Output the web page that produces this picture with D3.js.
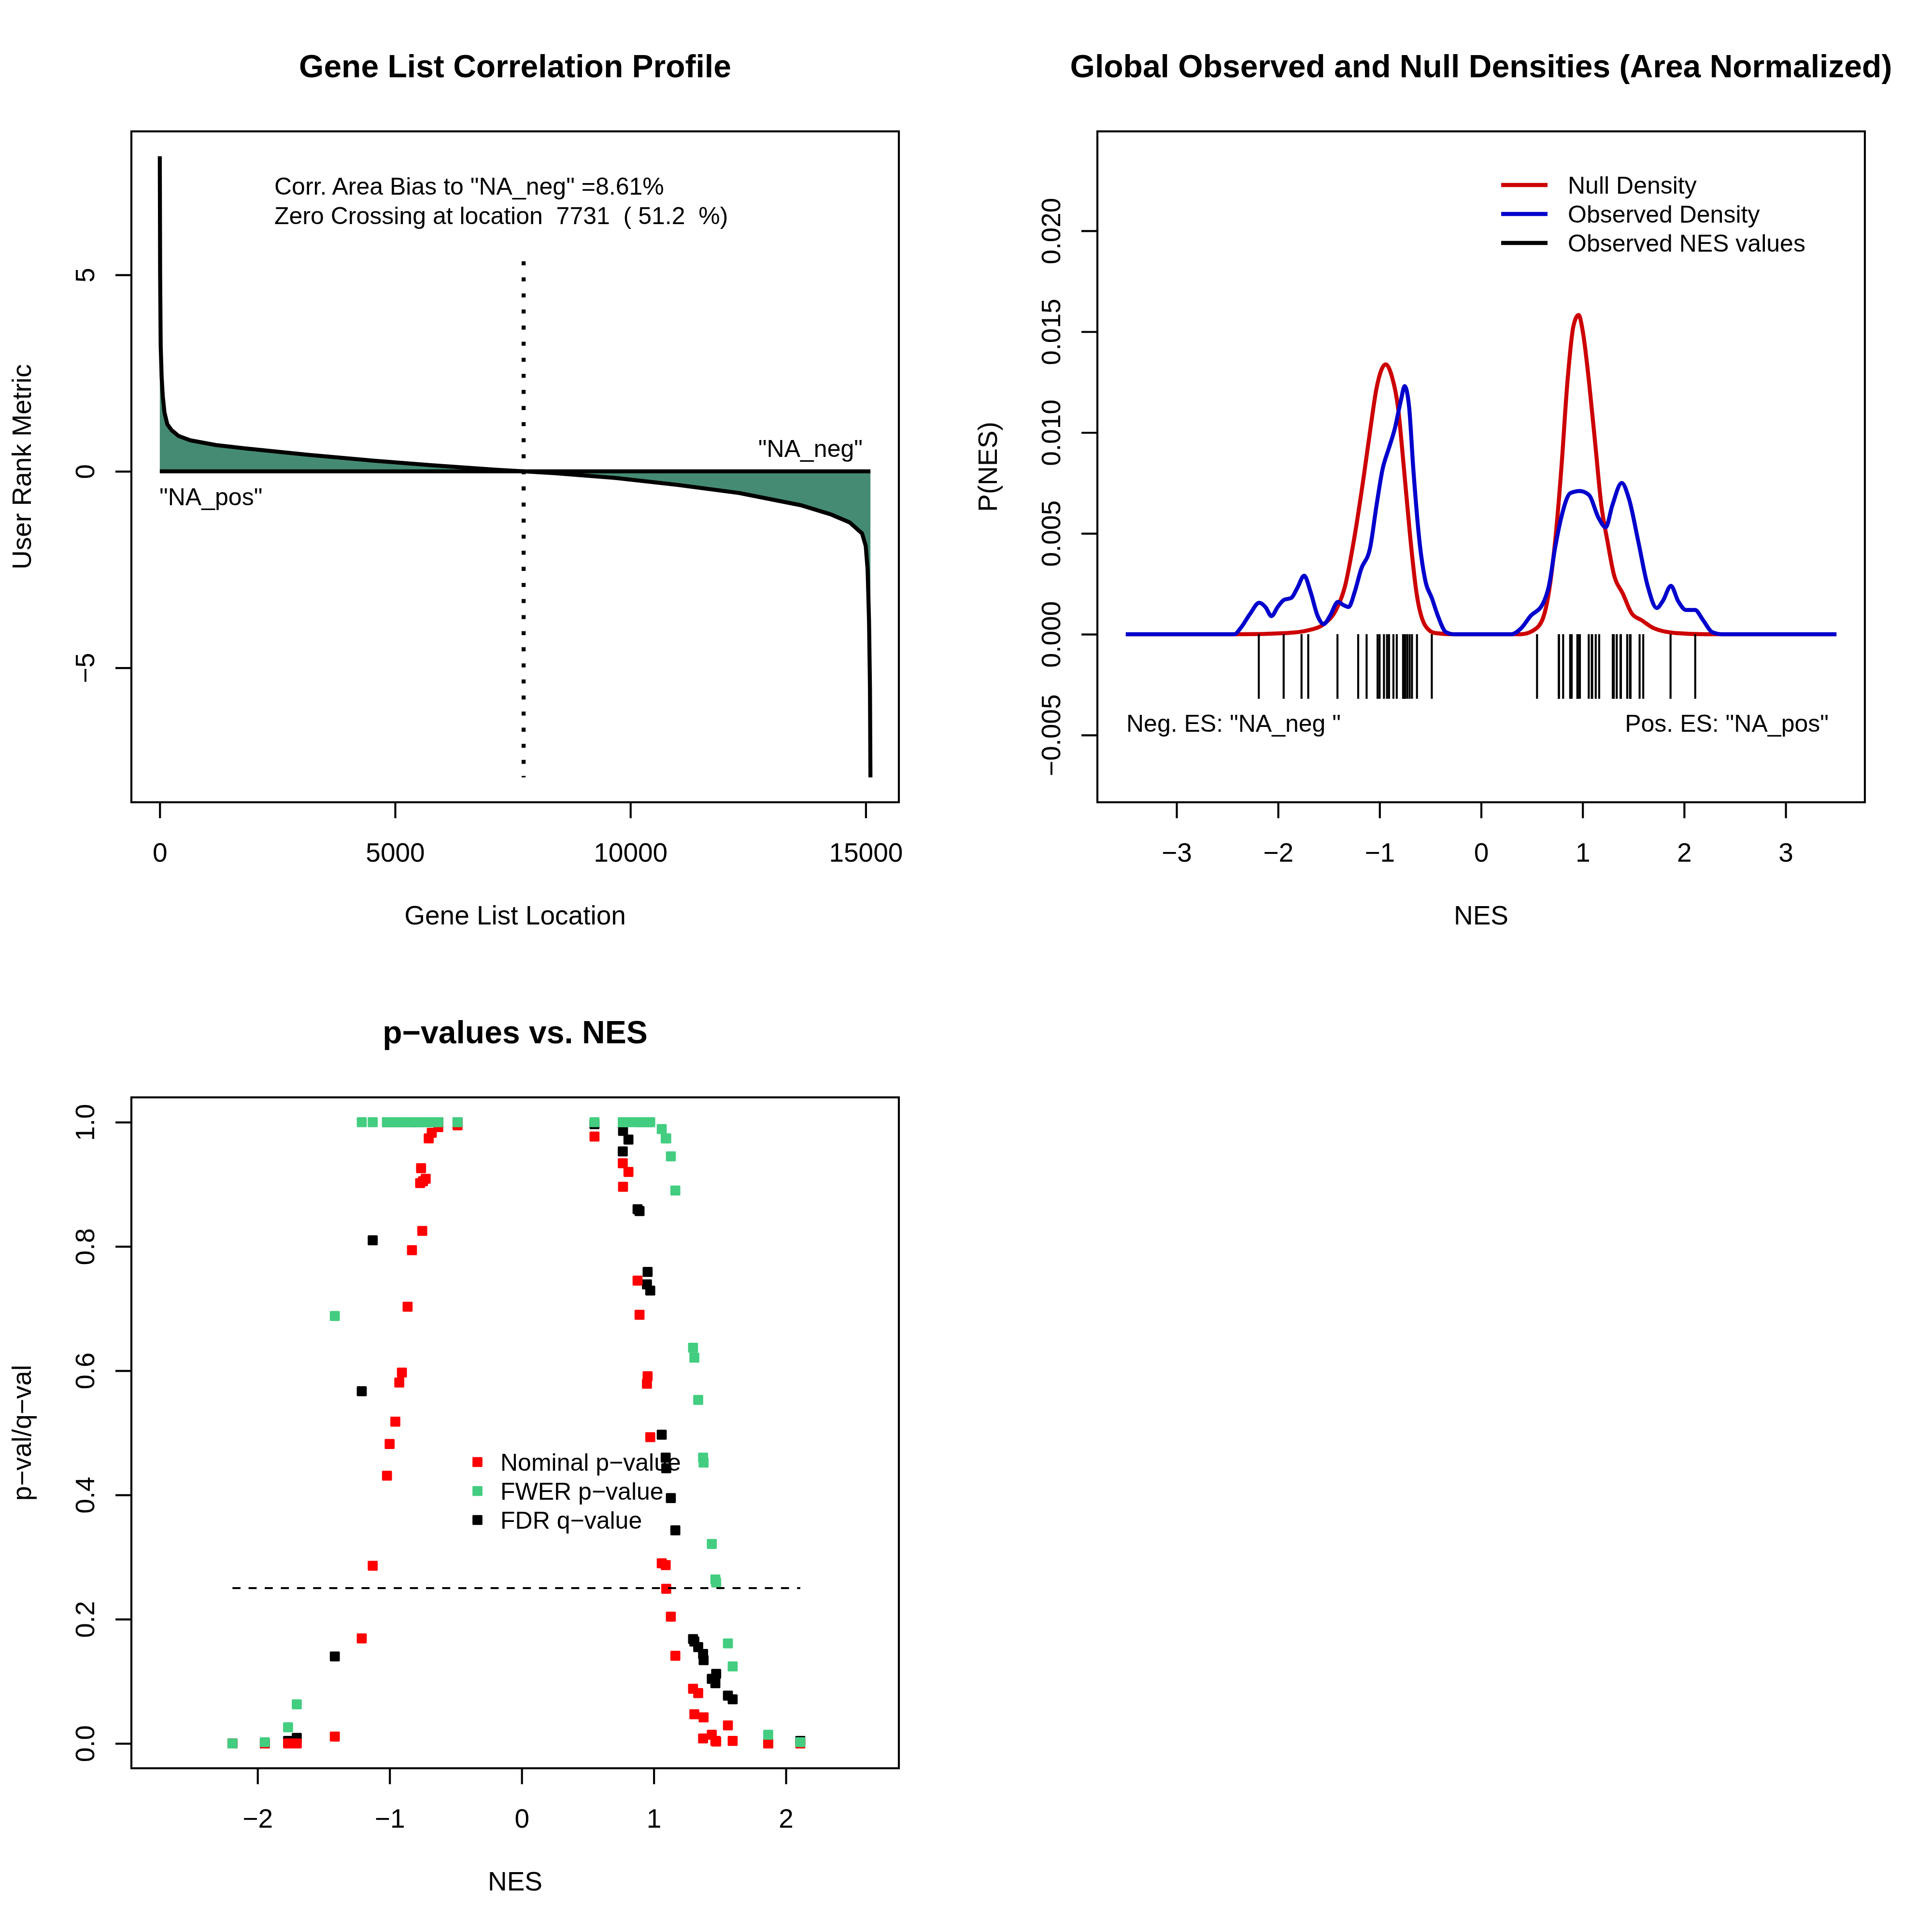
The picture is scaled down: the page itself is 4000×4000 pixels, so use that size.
<!DOCTYPE html>
<html><head><meta charset="utf-8">
<script src="https://cdn.jsdelivr.net/npm/d3@7"></script>
<style>body{margin:0;background:#fff}</style>
</head><body>
<script>
// ---------------- DATA ----------------
// Panel 1: ranked gene list metric
const geneLocation = [1, 8, 20, 40, 65, 100, 160, 250, 400, 650, 1190, 1844, 3152, 4460, 5768, 7075, 7731, 8383, 9691, 10999, 12306, 13614, 14268, 14660, 14922, 15000, 15040, 15070, 15090, 15100];
const rankMetric   = [8.02, 5.0, 3.2, 2.4, 1.9, 1.5, 1.2, 1.05, 0.9, 0.79, 0.67, 0.58, 0.42, 0.28, 0.157, 0.047, 0, -0.047, -0.17, -0.345, -0.55, -0.86, -1.10, -1.30, -1.58, -1.9, -2.5, -3.8, -5.5, -7.79];
const zeroCrossing = 7731;
const corrText1 = 'Corr. Area Bias to "NA_neg" =8.61%';
const corrText2 = 'Zero Crossing at location  7731  ( 51.2  %)';
const p1XTicks = [0, 5000, 10000, 15000];
const p1YTicks = [-5, 0, 5];

// Panel 2: densities
const nullX = [-3.5, -2.4, -1.91, -1.70, -1.55, -1.43, -1.34, -1.245, -1.154, -1.093, -1.03, -0.94, -0.88, -0.82, -0.76, -0.70, -0.638, -0.547, -0.455, -0.27, 0.395, 0.547, 0.638, 0.729, 0.79, 0.85, 0.91, 0.96, 1.002, 1.063, 1.123, 1.184, 1.245, 1.306, 1.397, 1.488, 1.579, 1.70, 1.913, 2.217, 3.5];
const nullY = [0, 0, 0.00006, 0.0002, 0.0005, 0.0012, 0.0024, 0.0049, 0.0079, 0.0101, 0.0122, 0.01338, 0.0128, 0.0113, 0.0082, 0.0049, 0.0021, 0.0004, 0.00006, 0, 0, 0.0003, 0.0013, 0.0046, 0.0082, 0.0125, 0.0153, 0.01583, 0.0150, 0.0125, 0.0095, 0.0064, 0.0046, 0.0030, 0.0020, 0.0010, 0.0007, 0.0003, 0.00006, 0, 0];
const obsX = [-3.5, -2.43, -2.37, -2.277, -2.186, -2.125, -2.065, -2.004, -1.943, -1.87, -1.81, -1.743, -1.68, -1.61, -1.55, -1.49, -1.41, -1.354, -1.306, -1.245, -1.184, -1.093, -1.03, -0.97, -0.91, -0.85, -0.79, -0.753, -0.71, -0.668, -0.607, -0.547, -0.486, -0.425, -0.346, -0.27, 0.30, 0.395, 0.486, 0.607, 0.668, 0.729, 0.79, 0.88, 0.972, 1.063, 1.154, 1.227, 1.293, 1.385, 1.457, 1.548, 1.64, 1.73, 1.79, 1.87, 1.94, 2.02, 2.107, 2.186, 2.277, 2.37, 3.5];
const obsY = [0, 0, 0.0003, 0.0010, 0.00156, 0.00135, 0.0009, 0.00135, 0.0017, 0.0018, 0.0023, 0.0029, 0.0021, 0.0009, 0.0005, 0.0009, 0.0016, 0.00144, 0.00135, 0.0021, 0.0032, 0.0043, 0.0064, 0.0082, 0.0092, 0.0102, 0.0116, 0.0123, 0.0113, 0.0082, 0.0046, 0.0026, 0.0018, 0.0009, 0.0001, 0, 0, 0.0003, 0.0009, 0.0015, 0.0024, 0.0043, 0.0058, 0.0070, 0.0071, 0.0069, 0.0058, 0.0053, 0.0064, 0.0075, 0.0067, 0.0046, 0.0024, 0.0013, 0.00165, 0.0024, 0.00165, 0.0012, 0.0012, 0.0007, 0.0001, 0, 0];
const p2XTicks = [-3, -2, -1, 0, 1, 2, 3];
const p2YTicks = [-0.005, 0, 0.005, 0.010, 0.015, 0.020];
const p2Legend = ["Null Density", "Observed Density", "Observed NES values"];

// Panel 3 (and rug in panel 2): per gene set
const nes   = [-2.190, -1.945, -1.769, -1.703, -1.415, -1.211, -1.128, -1.020, -1.000, -0.957, -0.927, -0.907, -0.864, -0.831, -0.769, -0.762, -0.753, -0.747, -0.727, -0.704, -0.681, -0.632, -0.486,
               0.551, 0.765, 0.767, 0.808, 0.877, 0.892, 0.948, 0.953, 0.973, 1.060, 1.090, 1.094, 1.129, 1.163, 1.297, 1.307, 1.336, 1.373, 1.377, 1.439, 1.466, 1.472, 1.561, 1.597, 1.866, 2.109];
const nomP  = [0, 0, 0, 0, 0.011, 0.169, 0.286, 0.431, 0.482, 0.518, 0.581, 0.597, 0.703, 0.794, 0.902, 0.926, 0.825, 0.905, 0.909, 0.974, 0.983, 0.992, 0.995,
               0.977, 0.934, 0.896, 0.920, 0.745, 0.690, 0.579, 0.591, 0.493, 0.290, 0.287, 0.249, 0.204, 0.141, 0.088, 0.047, 0.081, 0.008, 0.042, 0.014, 0.004, 0.003, 0.029, 0.004, 0, 0];
const fwerP = [0, 0.002, 0.026, 0.063, 0.688, 1, 1, 1, 1, 1, 1, 1, 1, 1, 1, 1, 1, 1, 1, 1, 1, 1, 1,
               1, 1, 1, 1, 1, 1, 1, 1, 1, 0.989, 0.974, 0.974, 0.945, 0.890, 0.637, 0.621, 0.553, 0.460, 0.452, 0.321, 0.264, 0.259, 0.161, 0.124, 0.014, 0.002];
const fdrQ  = [0, 0, 0.004, 0.009, 0.140, 0.567, 0.810, 1, 1, 1, 1, 1, 1, 1, 1, 1, 1, 1, 1, 1, 1, 1, 1,
               0.997, 0.953, 0.986, 0.972, 0.860, 0.857, 0.739, 0.759, 0.729, 0.497, 0.460, 0.443, 0.395, 0.343, 0.168, 0.164, 0.155, 0.144, 0.134, 0.104, 0.097, 0.112, 0.077, 0.071, 0, 0.004];
const p3XTicks = [-2, -1, 0, 1, 2];
const p3YTicks = [0, 0.2, 0.4, 0.6, 0.8, 1.0];
const p3Legend = ["Nominal p\u2212value", "FWER p\u2212value", "FDR q\u2212value"];
const pThreshold = 0.25;

// ---------------- DRAWING ----------------
const FONT = "'Liberation Sans', Arial, Helvetica, sans-serif";
const FS = 55, FI = 50, FT = 66, LW = 4.17;
const L = 272, R = 1861, T = 272, B = 1661;
const rLim = (a, b) => { const d = b - a; return [a - 0.04 * d, b + 0.04 * d]; };

const svg = d3.select("body").append("svg")
  .attr("width", 4000).attr("height", 4000)
  .attr("font-family", FONT);
svg.append("rect").attr("width", 4000).attr("height", 4000).attr("fill", "#fff");

function panel(ox, oy, xDom, yDom, xTicks, yTicks, xFmt, yFmt, title, xlab, ylab) {
  const g = svg.append("g").attr("transform", `translate(${ox},${oy})`);
  const x = d3.scaleLinear().domain(xDom).range([L, R]);
  const y = d3.scaleLinear().domain(yDom).range([B, T]);
  const ax = g.append("g").attr("transform", `translate(0,${B})`)
    .call(d3.axisBottom(x).tickValues(xTicks).tickFormat(xFmt).tickSize(33).tickSizeOuter(0));
  const ay = g.append("g").attr("transform", `translate(${L},0)`)
    .call(d3.axisLeft(y).tickValues(yTicks).tickFormat(yFmt).tickSize(33).tickSizeOuter(0));
  [ax, ay].forEach(a => {
    a.select(".domain").remove();
    a.selectAll(".tick line").attr("stroke", "#000").attr("stroke-width", LW);
    a.selectAll(".tick text").attr("fill", "#000").attr("font-size", FS).attr("font-family", FONT);
  });
  ax.selectAll(".tick text").attr("y", 103).attr("dy", "0.358em");
  ay.selectAll(".tick text").attr("x", 0).attr("y", -97).attr("dy", "0.358em")
    .attr("text-anchor", "middle").attr("transform", "rotate(-90)");
  g.append("rect").attr("x", L).attr("y", T).attr("width", R - L).attr("height", B - T)
    .attr("fill", "none").attr("stroke", "#000").attr("stroke-width", LW);
  g.append("text").attr("x", (L + R) / 2).attr("y", 160).attr("text-anchor", "middle")
    .attr("font-size", FT).attr("font-weight", "bold").text(title);
  g.append("text").attr("x", (L + R) / 2).attr("y", 1914).attr("text-anchor", "middle")
    .attr("font-size", FS).text(xlab);
  g.append("text").attr("transform", `translate(64,${(T + B) / 2}) rotate(-90)`)
    .attr("text-anchor", "middle").attr("font-size", FS).text(ylab);
  const plot = g.append("g").attr("font-size", FI);
  return { g, plot, x, y };
}

// ---- Panel 1 ----
{
  const p = panel(0, 0,
    rLim(d3.min(geneLocation), d3.max(geneLocation)),
    rLim(d3.min(rankMetric), d3.max(rankMetric)),
    p1XTicks, p1YTicks, d3.format("d"), d3.format("d"),
    "Gene List Correlation Profile", "Gene List Location", "User Rank Metric");
  const { plot, x, y } = p;
  const pts = geneLocation.map((d, i) => [d, rankMetric[i]]);
  plot.append("path").datum(pts)
    .attr("d", d3.area().x(d => x(d[0])).y0(y(0)).y1(d => y(d[1])))
    .attr("fill", "#458B74");
  plot.append("line").attr("x1", x(geneLocation[0])).attr("x2", x(geneLocation[geneLocation.length - 1]))
    .attr("y1", y(0)).attr("y2", y(0)).attr("stroke", "#000").attr("stroke-width", 8.3);
  plot.append("path").datum(pts)
    .attr("d", d3.line().x(d => x(d[0])).y(d => y(d[1])))
    .attr("fill", "none").attr("stroke", "#000").attr("stroke-width", 8.3).attr("stroke-linejoin", "round");
  plot.append("line").attr("x1", x(zeroCrossing)).attr("x2", x(zeroCrossing))
    .attr("y1", y(d3.max(rankMetric) * 2 / 3)).attr("y2", y(d3.min(rankMetric)))
    .attr("stroke", "#000").attr("stroke-width", 8.3).attr("stroke-dasharray", "8.3 25");
  plot.append("text").attr("x", 568).attr("y", 403)
    .attr("xml:space", "preserve").style("white-space", "pre").text(corrText1);
  plot.append("text").attr("x", 568).attr("y", 464)
    .attr("xml:space", "preserve").style("white-space", "pre").text(corrText2);
  plot.append("text").attr("x", 1786).attr("y", 946).attr("text-anchor", "end").text('"NA_neg"');
  plot.append("text").attr("x", 330).attr("y", 1046).text('"NA_pos"');
}

// ---- Panel 2 ----
{
  const p = panel(2000, 0,
    rLim(-3.5, 3.5), rLim(-0.0071, 0.0237),
    p2XTicks, p2YTicks, d3.format("d"), d3.format(".3f"),
    "Global Observed and Null Densities (Area Normalized)", "NES", "P(NES)");
  const { plot, x, y } = p;
  const line = d3.line().x(d => x(d[0])).y(d => y(d[1])).curve(d3.curveMonotoneX);
  plot.append("path").datum(nullX.map((d, i) => [d, nullY[i]])).attr("d", line)
    .attr("fill", "none").attr("stroke", "#CD0000").attr("stroke-width", 8.3).attr("stroke-linejoin", "round");
  plot.append("path").datum(obsX.map((d, i) => [d, obsY[i]])).attr("d", line)
    .attr("fill", "none").attr("stroke", "#0000CD").attr("stroke-width", 8.3).attr("stroke-linejoin", "round");
  plot.selectAll(".rug").data(nes).join("line")
    .attr("x1", d => x(d)).attr("x2", d => x(d))
    .attr("y1", y(0)).attr("y2", y(-0.0032))
    .attr("stroke", "#000").attr("stroke-width", LW);
  const cols = ["#CD0000", "#0000CD", "#000000"];
  p2Legend.forEach((t, i) => {
    const yy = 383 + i * 60;
    plot.append("line").attr("x1", 1108).attr("x2", 1204).attr("y1", yy).attr("y2", yy)
      .attr("stroke", cols[i]).attr("stroke-width", 8.3);
    plot.append("text").attr("x", 1246).attr("y", yy + 17.9).text(t);
  });
  plot.append("text").attr("x", 332).attr("y", 1515).text('Neg. ES: "NA_neg "');
  plot.append("text").attr("x", 1786).attr("y", 1515).attr("text-anchor", "end").text('Pos. ES: "NA_pos"');
}

// ---- Panel 3 ----
{
  const p = panel(0, 2000,
    rLim(-2.74, 2.64), rLim(0, 1),
    p3XTicks, p3YTicks, d3.format("d"), d3.format(".1f"),
    "p\u2212values vs. NES", "NES", "p\u2212val/q\u2212val");
  const { plot, x, y } = p;
  const S = 20.7;
  const series = [[fdrQ, "#000000"], [nomP, "#FF0000"], [fwerP, "#43CD80"]];
  series.forEach(([vals, c]) => {
    plot.append("g").selectAll("rect").data(nes.map((d, i) => [d, vals[i]])).join("rect")
      .attr("x", d => x(d[0]) - S / 2).attr("y", d => y(d[1]) - S / 2)
      .attr("width", S).attr("height", S).attr("rx", 2).attr("fill", c);
  });
  plot.append("line").attr("x1", x(d3.min(nes))).attr("x2", x(d3.max(nes)))
    .attr("y1", y(pThreshold)).attr("y2", y(pThreshold))
    .attr("stroke", "#000").attr("stroke-width", LW).attr("stroke-dasharray", "16.7 16.7");
  const lc = ["#FF0000", "#43CD80", "#000000"];
  p3Legend.forEach((t, i) => {
    const yy = 1027 + i * 60;
    plot.append("rect").attr("x", 988.5 - S / 2).attr("y", yy - S / 2).attr("width", S).attr("height", S)
      .attr("rx", 2).attr("fill", lc[i]);
    plot.append("text").attr("x", 1036).attr("y", yy + 17.9).text(t);
  });
}
</script>
</body></html>
